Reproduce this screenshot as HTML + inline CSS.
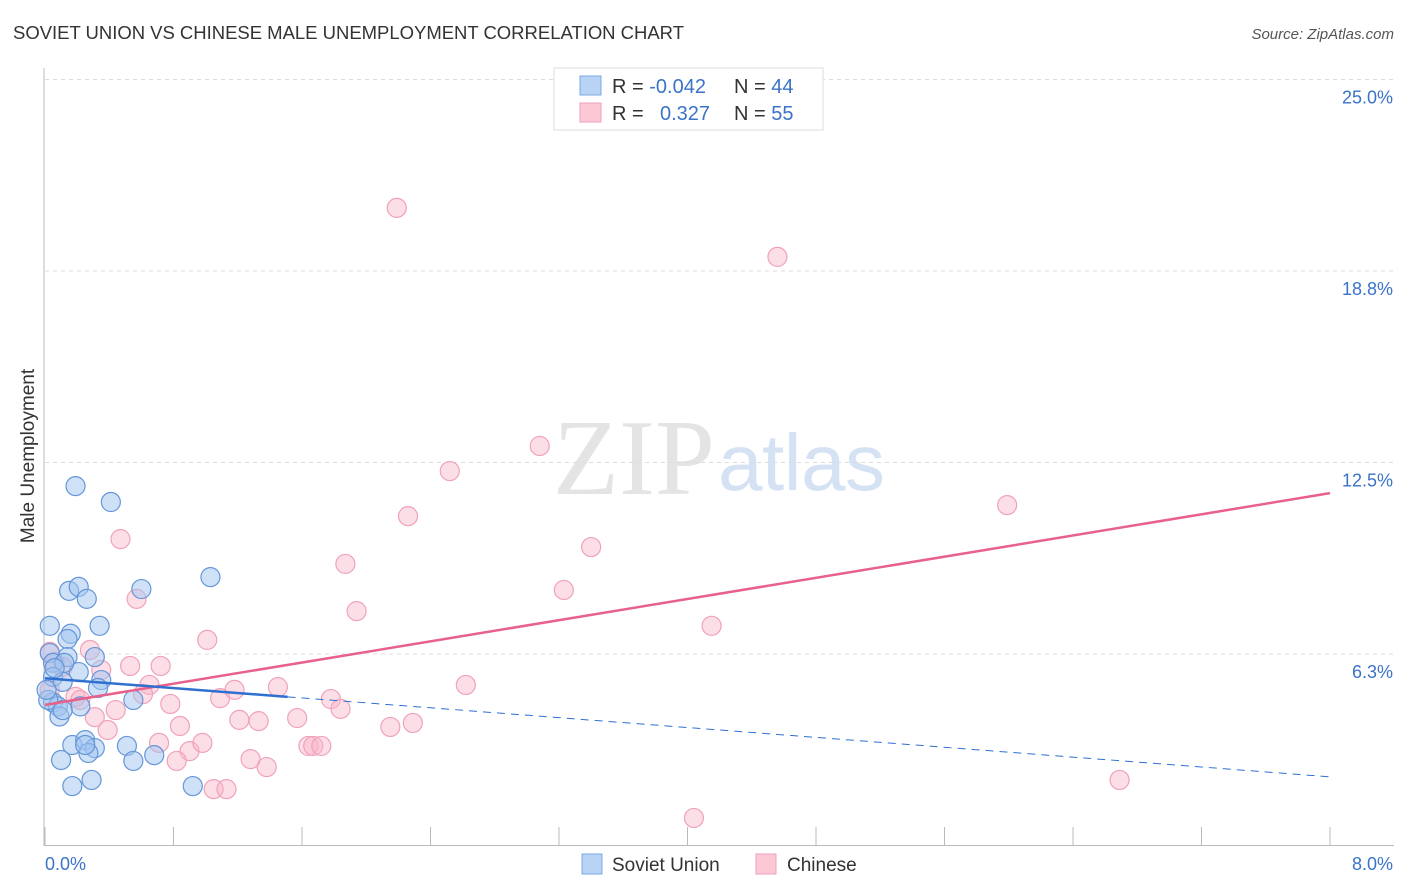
<!DOCTYPE html>
<html><head><meta charset="utf-8"><style>
body{margin:0;background:#fff;font-family:"Liberation Sans",sans-serif;}
svg{display:block}
</style></head><body>
<svg id="chart" width="1406" height="892">
<text x="13" y="39" font-size="18.5" fill="#333" textLength="671">SOVIET UNION VS CHINESE MALE UNEMPLOYMENT CORRELATION CHART</text>
<text x="1394" y="39" font-size="15" fill="#555" font-style="italic" text-anchor="end">Source: ZipAtlas.com</text>
<g>
<text x="553" y="494" font-size="108" font-family="Liberation Serif,serif" fill="#e4e4e4" textLength="162">ZIP</text>
<text x="718" y="490" font-size="80" fill="#d4e2f4" textLength="167">atlas</text>
</g>
<g id="grid"></g><g id="axes"></g><g id="pts"></g><g id="lines"></g>
<text transform="translate(34,456) rotate(-90)" font-size="19" fill="#333" text-anchor="middle">Male Unemployment</text>
<g>
<rect x="554" y="68" width="269" height="62" fill="#fff" stroke="#ddd"/>
<rect x="580" y="76" width="21" height="19" fill="#b9d3f5" stroke="#7aa8e6"/>
<rect x="580" y="103" width="21" height="19" fill="#fcc8d6" stroke="#f0a0b8"/>
<text x="612" y="93" font-size="20" fill="#333">R = <tspan fill="#3b73c9">-0.042</tspan></text>
<text x="734" y="93" font-size="20" fill="#333">N = <tspan fill="#3b73c9">44</tspan></text>
<text x="612" y="120" font-size="20" fill="#333">R = <tspan fill="#3b73c9" x="660">0.327</tspan></text>
<text x="734" y="120" font-size="20" fill="#333">N = <tspan fill="#3b73c9">55</tspan></text>
</g>
<g>
<rect x="582" y="854" width="20" height="20" fill="#b9d3f5" stroke="#7aa8e6"/>
<text x="612" y="871" font-size="19" fill="#333">Soviet Union</text>
<rect x="756" y="854" width="20" height="20" fill="#fcc8d6" stroke="#f0a0b8"/>
<text x="787" y="871" font-size="19" fill="#333">Chinese</text>
</g>
</svg>
<script>
const yTicks=[6.25,12.5,18.75,25];
const yTickLabels=["6.3%","12.5%","18.8%","25.0%"];
const xTickCount=10;
const xLabels=["0.0%","8.0%"];
const sovietX=[.19,.41,.15,.21,.26,.60,1.03,.03,.16,.14,.34,.03,.14,.31,.21,.05,.12,.05,.11,.35,.33,.55,.05,.08,.09,.22,.17,.25,.31,.27,.51,.68,.55,.10,.17,.29,.92,.02,.06,.01,.11,.25];
const sovietY=[11.73,11.21,8.31,8.44,8.05,8.37,8.76,7.17,6.91,6.74,7.17,6.28,6.15,6.15,5.66,5.96,5.96,5.50,5.34,5.40,5.14,4.75,4.67,4.54,4.21,4.54,3.28,3.44,3.18,3.02,3.25,2.95,2.76,2.79,1.94,2.14,1.94,4.75,5.79,5.08,4.42,3.28];
const chineseX=[.47,1.87,1.94,.57,1.01,.28,.53,.72,.35,.03,.11,.65,.61,1.09,1.18,1.45,.78,.44,.19,.22,.31,.39,.84,1.21,1.33,1.57,1.78,1.84,.71,.90,.98,.82,1.28,1.38,1.64,1.67,1.72,1.05,1.13,2.19,4.56,3.08,2.52,2.26,5.99,3.40,3.23,4.15,2.62,2.15,2.29,6.69,4.04,.03,.06];
const chineseY=[10.0,9.19,7.65,8.05,6.71,6.38,5.86,5.86,5.73,6.32,5.83,5.24,4.94,4.81,5.08,5.17,4.62,4.42,4.85,4.75,4.19,3.77,3.90,4.10,4.06,4.16,4.78,4.46,3.35,3.08,3.35,2.76,2.82,2.56,3.25,3.25,3.25,1.84,1.84,20.81,19.21,13.04,12.22,10.75,11.11,9.74,8.34,7.17,5.24,3.87,4.00,2.14,0.90,5.08,5.99];
const sovietTrend=[5.46,2.24];
const chineseTrend=[4.59,11.5];
const sovietSolidEnd=1.51;

const X0=45,X1=1330,XMAX=8,Y0=845.5,YS=30.64;
const sx=v=>X0+v/XMAX*(X1-X0), sy=v=>Y0-v*YS;
const NS="http://www.w3.org/2000/svg";
function mk(tag,attrs,parent){const e=document.createElementNS(NS,tag);for(const k in attrs)e.setAttribute(k,attrs[k]);parent.appendChild(e);return e;}
const grid=document.getElementById('grid'),axes=document.getElementById('axes'),pts=document.getElementById('pts'),lines=document.getElementById('lines');
yTicks.forEach((t,i)=>{
  const l=mk('line',{x1:X0,x2:1394,y1:sy(t),y2:sy(t),stroke:'#ddd','stroke-dasharray':'4,4'},grid);
  
  
  const tx=mk('text',{x:1393,y:sy(t)+24,'font-size':18,fill:'#3b73c9','text-anchor':'end'},grid);
  tx.textContent=yTickLabels[i];
  
  
});
let a=mk('line',{x1:44,x2:44,y1:68,y2:846,stroke:'#bbb'},axes);


a=mk('line',{x1:44,x2:1394,y1:845.5,y2:845.5,stroke:'#bbb'},axes);


for(let i=0;i<=xTickCount;i++){
  const v=i*XMAX/xTickCount;
  const t=mk('line',{x1:sx(v),x2:sx(v),y1:827,y2:845,stroke:'#bbb'},axes);
  
  
}
[[0,'start',45],[XMAX,'end',1393]].forEach((d,i)=>{
  const t=mk('text',{x:d[2],y:870,'font-size':18,fill:'#3b73c9','text-anchor':d[1]},axes);
  t.textContent=xLabels[i];
  
  
});
function dots(xs,ys,fill,stroke,name){
  xs.forEach((x,i)=>{
    const c=mk('circle',{cx:sx(x),cy:sy(ys[i]),r:9.5,fill:fill,stroke:stroke,'stroke-width':1.2},pts);
    
    
  });
}
dots(chineseX,chineseY,'rgba(248,182,202,0.45)','#f0a2ba','chinese-point');
dots(sovietX,sovietY,'rgba(160,196,240,0.5)','#6596d8','soviet-point');
const cy=v=>chineseTrend[0]+(chineseTrend[1]-chineseTrend[0])*v/XMAX;
const by=v=>sovietTrend[0]+(sovietTrend[1]-sovietTrend[0])*v/XMAX;
let L=mk('line',{x1:sx(0),y1:sy(cy(0)),x2:sx(XMAX),y2:sy(cy(XMAX)),stroke:'#e8608c','stroke-width':2.5},lines);


L=mk('line',{x1:sx(0),y1:sy(by(0)),x2:sx(sovietSolidEnd),y2:sy(by(sovietSolidEnd)),stroke:'#2f6fd0','stroke-width':2.5},lines);


L=mk('line',{x1:sx(sovietSolidEnd),y1:sy(by(sovietSolidEnd)),x2:sx(XMAX),y2:sy(by(XMAX)),stroke:'#2f6fd0','stroke-width':1,'stroke-dasharray':'8,6'},lines);


</script>
</body></html>
